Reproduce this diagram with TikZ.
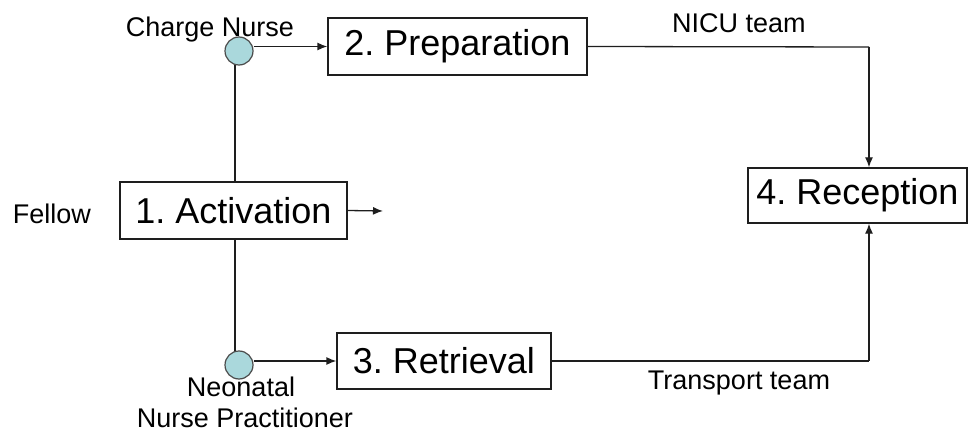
\documentclass[tikz,border=0pt]{standalone}
\usepackage{fontspec}
\setmainfont{Liberation Sans}
\usetikzlibrary{arrows.meta}
\definecolor{circfill}{RGB}{170,216,220}
\definecolor{linec}{RGB}{30,30,30}
\begin{document}
\frenchspacing
\begin{tikzpicture}[x=1pt,y=-1pt,
  stepbox/.style={draw=linec,line width=1.3pt,inner sep=0pt,font=\fontsize{36}{40}\selectfont},
  role/.style={inner sep=0pt,anchor=base,font=\fontsize{27}{36}\selectfont},
  dot/.style={circle,draw=linec!80,line width=1.2pt,fill=circfill,minimum size=28pt,inner sep=0pt},
  conn/.style={draw=linec,line width=1.3pt},
  arr/.style={conn,-{Latex[length=10pt,width=8pt]}}]
\useasboundingbox (0,0) rectangle (972,433);
% boxes
\node[stepbox,minimum width=227pt,minimum height=57pt] (act) at (233.5,210.5) {1. Activation};
\node[stepbox,minimum width=259pt,minimum height=57pt] (prep) at (457.5,46.5) {2. Preparation};
\node[stepbox,minimum width=214pt,minimum height=56pt] (ret) at (444,361) {3. Retrieval};
\node[stepbox,minimum width=219pt,minimum height=55pt] (recep) at (857.5,195.5) {4. Reception};
% labels
\node[role] (cn) at (210,37) {Charge Nurse};
\node[role] (fel) at (52,223) {Fellow};
\node[role] (nicu) at (739,33) {NICU team};
\node[role] (trans) at (739,389) {Transport team};
\node[role] (neo) at (241,396) {Neonatal};
\node[role] (np) at (245,427) {Nurse Practitioner};
% junctions
\coordinate (j1) at (869,47);
\coordinate (j2) at (869,361);
\coordinate (actout) at (383,211);
% vertical trunk
\draw[conn] (235,51) -- (act.north -| 235,0);
\draw[conn] (act.south -| 235,0) -- (235,365);
% circles
\node[dot] (c1) at (239,51) {};
\node[dot] (c2) at (239,365) {};
% arrows
\draw[arr] (prep.west -| c1.east) -- (prep.west);
\draw[arr] (ret.west -| c2.east) -- (ret.west);
\draw[arr] (act.east) -- (actout);
\draw[conn] (prep.east) -- (j1);
\draw[arr] (j1) -- (j1 |- recep.north);
\draw[conn] (ret.east) -- (j2);
\draw[arr] (j2) -- (j2 |- recep.south);
\end{tikzpicture}
\end{document}
